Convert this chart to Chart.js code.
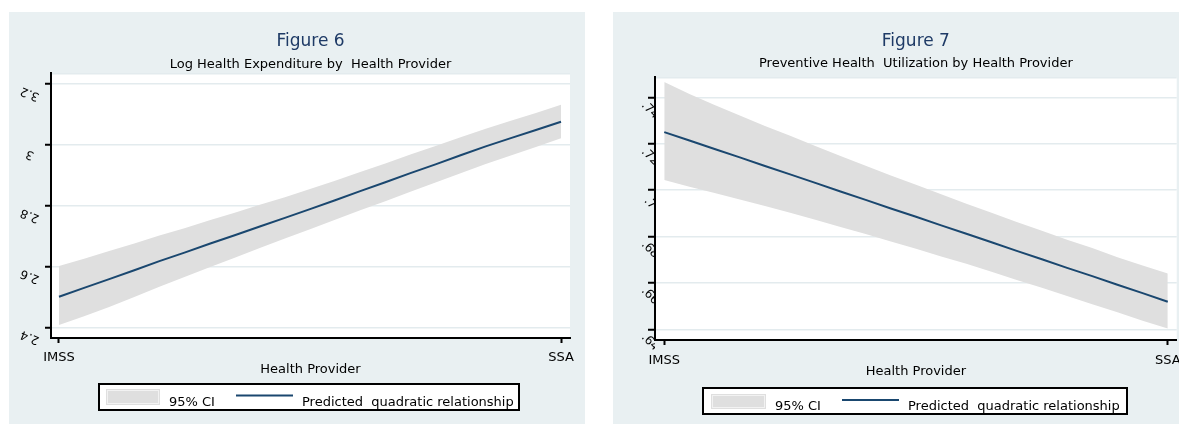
<!DOCTYPE html>
<html><head><meta charset="utf-8">
<script src="https://cdn.jsdelivr.net/npm/chart.js@4.4.1/dist/chart.umd.min.js"></script>
<style>
html,body{margin:0;padding:0;background:#fff;overflow:hidden;width:1179px;height:424px;}
.panel{position:absolute;top:12px;height:412px;width:576px;background:#e9f0f2;}
canvas{display:block;}
</style></head><body>
<div class="panel" style="left:9px"><canvas id="c1" width="576" height="412"></canvas></div>
<div class="panel" style="left:613px"><canvas id="c2" width="576" height="412"></canvas></div>
<script>
// ---- data ----
const xTickLabels = ['IMSS', 'SSA'];
const xPos = [0,0.05,0.1,0.15,0.2,0.25,0.3,0.35,0.4,0.45,0.5,0.55,0.6,0.65,0.7,0.75,0.8,0.85,0.9,0.95,1];
const legendLabels = ['95% CI', 'Predicted  quadratic relationship'];
const xAxisTitle = 'Health Provider';

// Figure 6
const fig6Title = 'Figure 6';
const fig6Subtitle = 'Log Health Expenditure by  Health Provider';
const fig6Line  = [2.501,2.530,2.559,2.588,2.618,2.646,2.675,2.703,2.732,2.760,2.789,2.818,2.848,2.877,2.907,2.936,2.966,2.995,3.022,3.049,3.076];
const fig6Upper = [2.602,2.626,2.651,2.676,2.702,2.726,2.752,2.777,2.803,2.828,2.855,2.882,2.911,2.939,2.968,2.996,3.025,3.053,3.079,3.105,3.132];
const fig6Lower = [2.408,2.437,2.467,2.500,2.534,2.566,2.598,2.629,2.661,2.692,2.723,2.754,2.785,2.815,2.846,2.876,2.907,2.937,2.965,2.993,3.022];
const fig6YTicks = [2.4, 2.6, 2.8, 3, 3.2];
const fig6YTickLabels = ['2.4', '2.6', '2.8', '3', '3.2'];

// Figure 7
const fig7Title = 'Figure 7';
const fig7Subtitle = 'Preventive Health  Utilization by Health Provider';
const fig7Line  = [.7250,.7214,.7177,.7141,.7104,.7068,.7031,.6994,.6958,.6921,.6885,.6848,.6812,.6775,.6738,.6702,.6665,.6629,.6592,.6556,.6519];
const fig7Upper = [.7466,.7414,.7367,.7322,.7276,.7234,.7190,.7147,.7105,.7063,.7023,.6982,.6941,.6902,.6863,.6825,.6786,.6750,.6711,.6675,.6640];
const fig7Lower = [.7044,.7014,.6987,.6960,.6932,.6902,.6872,.6841,.6811,.6779,.6747,.6714,.6683,.6648,.6613,.6579,.6544,.6508,.6473,.6437,.6404];
const fig7YTicks = [.64, .66, .68, .7, .72, .74];
const fig7YTickLabels = ['.64', '.66', '.68', '.7', '.72', '.74'];

// ---- styling ----
const NAVY = '#1a476f';
const BAND = '#dfdfdf';
const FONT = 'DejaVu Sans';

const plotBg = {
  id: 'plotBg',
  beforeDraw(chart) {
    const a = chart.chartArea, ctx = chart.ctx;
    ctx.save(); ctx.fillStyle = '#ffffff';
    ctx.fillRect(a.left, a.top, a.right - a.left, a.bottom - a.top);
    ctx.strokeStyle = '#e3ebee'; ctx.lineWidth = 1.5;
    ctx.beginPath(); ctx.moveTo(a.left, a.top + 0.75); ctx.lineTo(a.right, a.top + 0.75); ctx.stroke();
    ctx.restore();
  }
};

const stataLegend = {
  id: 'stataLegend',
  afterDraw(chart, args, o) {
    const ctx = chart.ctx;
    ctx.save();
    ctx.fillStyle = '#ffffff';
    ctx.fillRect(o.box[0], o.box[1], o.box[2], o.box[3]);
    ctx.strokeStyle = '#000'; ctx.lineWidth = 2;
    ctx.strokeRect(o.box[0], o.box[1], o.box[2], o.box[3]);
    ctx.fillStyle = BAND;
    ctx.fillRect(o.swatch[0], o.swatch[1], o.swatch[2], o.swatch[3]);
    ctx.strokeStyle = '#f2f2f2'; ctx.lineWidth = 1;
    ctx.strokeRect(o.swatch[0] + 1.5, o.swatch[1] + 1.5, o.swatch[2] - 3, o.swatch[3] - 3);
    ctx.strokeStyle = NAVY; ctx.lineWidth = 2;
    ctx.beginPath(); ctx.moveTo(o.line[0], o.line[2]); ctx.lineTo(o.line[1], o.line[2]); ctx.stroke();
    ctx.fillStyle = '#000'; ctx.font = '13px "' + FONT + '"';
    ctx.textBaseline = 'alphabetic'; ctx.textAlign = 'left';
    ctx.fillText(legendLabels[0], o.text1[0], o.text1[1]);
    ctx.fillText(legendLabels[1], o.text2[0], o.text2[1]);
    ctx.restore();
  }
};

function toXY(arr) { return xPos.map((x, i) => ({x: x, y: arr[i]})); }

function build(id, p) {
  return new Chart(document.getElementById(id), {
    type: 'line',
    data: {
      datasets: [
        {data: toXY(p.line), borderColor: NAVY, borderWidth: 2, pointRadius: 0, fill: false, tension: 0},
        {data: toXY(p.upper), borderWidth: 0, borderColor: 'rgba(0,0,0,0)', pointRadius: 0, fill: '+1', backgroundColor: BAND, tension: 0},
        {data: toXY(p.lower), borderWidth: 0, borderColor: 'rgba(0,0,0,0)', pointRadius: 0, fill: false, tension: 0}
      ]
    },
    options: {
      responsive: false, animation: false, devicePixelRatio: 1,
      layout: {padding: {left: 0, right: p.padR, top: 0, bottom: p.padB}},
      plugins: {
        legend: {display: false}, tooltip: {enabled: false},
        title: {display: true, text: p.title, fullSize: false, color: '#1e3a66',
                font: {family: FONT, size: 17, weight: 'normal'}, padding: {top: 19.3, bottom: p.titlePB}},
        subtitle: {display: true, text: p.subtitle, fullSize: false, color: '#000',
                font: {family: FONT, size: 13, weight: 'normal'}, padding: {top: 0, bottom: p.subPB}},
        stataLegend: p.legend
      },
      scales: {
        x: {
          type: 'linear', min: p.xMin, max: p.xMax,
          afterBuildTicks: s => { s.ticks = [{value: 0}, {value: 1}]; },
          afterFit: s => { s.height = 40; },
          ticks: {callback: (v, i) => xTickLabels[i], color: '#000', font: {family: FONT, size: 13},
                  padding: p.xPad, minRotation: 0, maxRotation: 0, autoSkip: false},
          grid: {drawOnChartArea: false, drawTicks: true, tickLength: 5, tickColor: '#000', tickWidth: 2},
          border: {display: true, color: '#000', width: 2},
          title: {display: true, text: xAxisTitle, color: '#000', font: {family: FONT, size: 13},
                  padding: {top: 0, bottom: p.xTitlePB}}
        },
        y: {
          type: 'linear', min: p.yMin, max: p.yMax,
          afterBuildTicks: s => { s.ticks = p.yTicks.map(v => ({value: v})); },
          afterFit: s => { s.width = 42; },
          ticks: {callback: (v, i) => p.yLabels[i], color: '#000', font: {family: FONT, size: 12},
                  minRotation: p.rot, maxRotation: p.rot, crossAlign: 'center', padding: p.yPad,
                  labelOffset: p.yLabelOffset, autoSkip: false},
          grid: {color: '#e3ebee', lineWidth: 1.5, drawTicks: true, tickLength: p.tickLen, tickColor: '#000', tickWidth: 2},
          border: {display: true, color: '#000', width: 2}
        }
      }
    },
    plugins: [plotBg, stataLegend]
  });
}

build('c1', {
  title: fig6Title, subtitle: fig6Subtitle,
  line: fig6Line, upper: fig6Upper, lower: fig6Lower,
  yTicks: fig6YTicks, yLabels: fig6YTickLabels,
  yMin: 2.3655, yMax: 3.2361, xMin: -0.0159, xMax: 1.0179,
  padR: 15, padB: 46, titlePB: 5.5, subPB: 0.2, xPad: 7.2, xTitlePB: 0.7,
  rot: 158, yPad: 5.5, yLabelOffset: 9.5, tickLen: 6,
  legend: {box: [90, 372, 420, 26], swatch: [97, 377, 54, 16], line: [227, 284, 383.5],
           text1: [160, 394], text2: [293, 394]}
});

build('c2', {
  title: fig7Title, subtitle: fig7Subtitle,
  line: fig7Line, upper: fig7Upper, lower: fig7Lower,
  yTicks: fig7YTicks, yLabels: fig7YTickLabels,
  yMin: 0.63539, yMax: 0.74875, xMin: -0.0184, xMax: 1.0178,
  padR: 11, padB: 44, titlePB: 4.5, subPB: 5.2, xPad: 8.2, xTitlePB: 0.2,
  rot: -45, yPad: -11.5, yLabelOffset: 13, tickLen: 7,
  legend: {box: [90, 376, 424, 26], swatch: [98, 382, 55, 15], line: [229, 286, 388],
           text1: [162, 398], text2: [295, 398]}
});
</script>
</body></html>
